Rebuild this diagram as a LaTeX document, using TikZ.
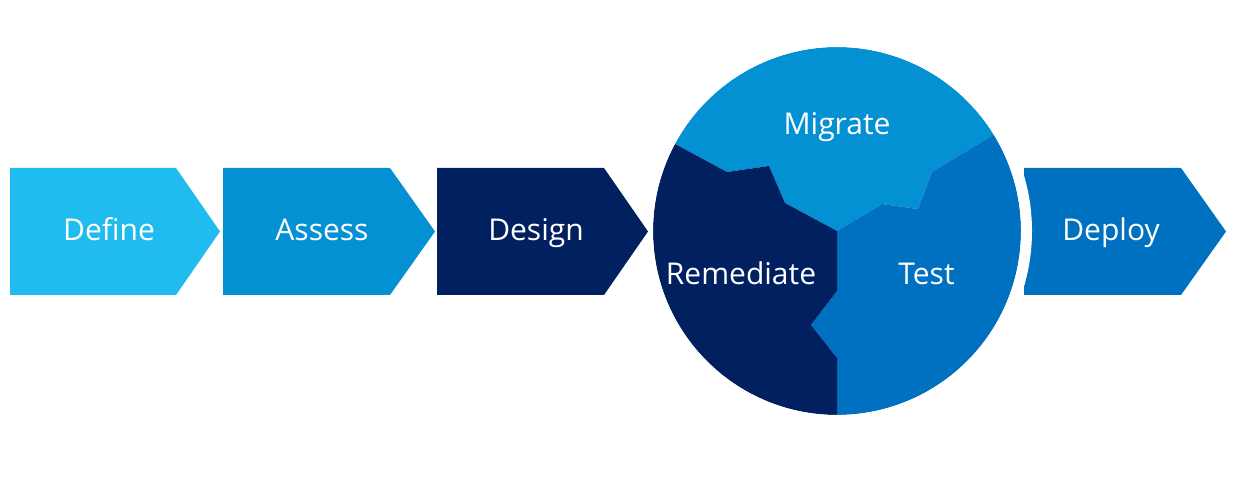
\documentclass[tikz,border=0pt]{standalone}
\usepackage{fontspec}
\setmainfont{Open Sans}
\usepackage{tikz}
\usetikzlibrary{calc}
\definecolor{lightblue}{RGB}{32,188,240}
\definecolor{midblue}{RGB}{3,145,211}
\definecolor{darkblue}{RGB}{0,32,96}
\definecolor{deepblue}{RGB}{0,112,192}
\tikzset{
	phase/.style={text=white,font=\fontsize{30}{36}\selectfont,anchor=base,inner sep=0pt},
	ring/.style={draw=white,line width=11pt}
}

\begin{document}
\begin{tikzpicture}[x=1pt,y=1pt]
	\useasboundingbox (0,0) rectangle (1233,487);
	% deploy chevron sits under the white ring
	\fill[deepblue] (1024,319) -- (1181,319) -- (1226,255.5) -- (1181,192) -- (1024,192) -- cycle;
	% the wheel
	\coordinate (c) at (837,256);
	\coordinate (mr) at ($(c)+(151.76:184)$);
	\coordinate (mt) at ($(c)+(31.55:184)$);
	\coordinate (bt) at ($(c)+(270:184)$);
	\coordinate (mr1) at (727,315);
	\coordinate (mr2) at (769,321);
	\coordinate (mr3) at (785,284);
	\coordinate (mt1) at (882,283);
	\coordinate (mt2) at (918,278);
	\coordinate (mt3) at (932,315);
	\coordinate (rt1) at (837,196);
	\coordinate (rt2) at (811,162);
	\coordinate (rt3) at (837,129);
	\fill[midblue] (mr) arc[start angle=151.76,end angle=31.55,radius=184]
		-- (mt3) -- (mt2) -- (mt1) -- (c) -- (mr3) -- (mr2) -- (mr1) -- cycle;
	\fill[deepblue] (mt) arc[start angle=31.55,end angle=-90,radius=184]
		-- (rt3) -- (rt2) -- (rt1) -- (c) -- (mt1) -- (mt2) -- (mt3) -- cycle;
	\fill[darkblue] (bt) arc[start angle=270,end angle=151.76,radius=184]
		-- (mr1) -- (mr2) -- (mr3) -- (c) -- (rt1) -- (rt2) -- (rt3) -- cycle;
	\draw[ring] (c) circle[radius=189.5];
	% chevrons before the wheel
	\fill[lightblue] (10,319) -- (176,319) -- (220,255.5) -- (176,192) -- (10,192) -- cycle;
	\fill[midblue] (223,319) -- (390,319) -- (435,255.5) -- (390,192) -- (223,192) -- cycle;
	\fill[darkblue] (437,319) -- (604,319) -- (648,255.5) -- (604,192) -- (437,192) -- cycle;
	% labels
	\node[phase] (define) at (109,246.3) {Define};
	\node[phase] (assess) at (322,246.3) {Assess};
	\node[phase] (design) at (536,246.3) {Design};
	\node[phase] (deploy) at (1111,246.3) {Deploy};
	\node[phase] (migrate) at (837,352) {Migrate};
	\node[phase] (remediate) at (741,202) {Remediate};
	\node[phase] (test) at (926.5,202) {Test};
\end{tikzpicture}
\end{document}
